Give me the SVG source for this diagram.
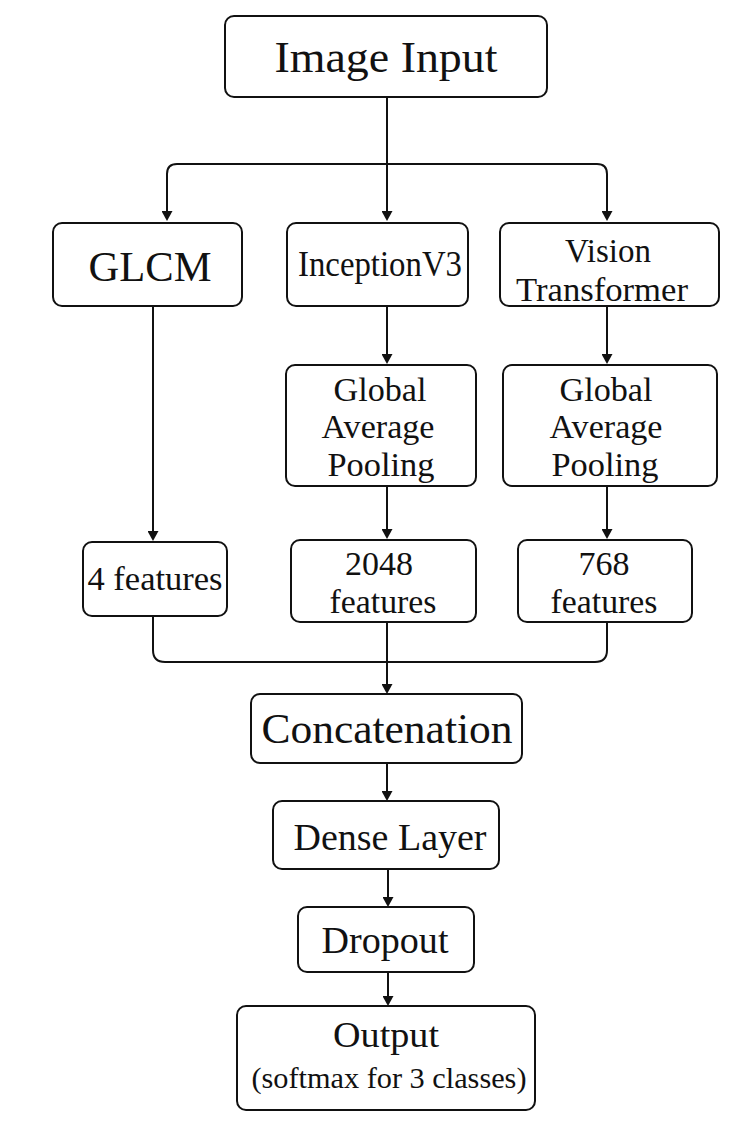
<svg xmlns="http://www.w3.org/2000/svg" width="749" height="1129" viewBox="0 0 749 1129">
<style>
.box{fill:#fff;stroke:#111;stroke-width:2}
.t{fill:#111;text-anchor:middle}
.c{fill:none;stroke:#111;stroke-width:2}
</style>
<defs>
<marker id="ah" markerUnits="userSpaceOnUse" markerWidth="10" markerHeight="11" refX="8" refY="5.5" orient="auto" viewBox="0 0 10 11">
<path d="M0,0 L10,5.5 L0,11 z" fill="#111"/>
</marker>
</defs>
<rect width="749" height="1129" fill="#fff"/>
<g id="connectors">
<path class="c" d="M387,97 V219" marker-end="url(#ah)"/>
<path class="c" d="M387,164 H177 Q167,164 167,174 V219" marker-end="url(#ah)"/>
<path class="c" d="M387,164 H597 Q607,164 607,174 V219" marker-end="url(#ah)"/>
<path class="c" d="M153,306 V539" marker-end="url(#ah)"/>
<path class="c" d="M387,306 V362" marker-end="url(#ah)"/>
<path class="c" d="M607,306 V362" marker-end="url(#ah)"/>
<path class="c" d="M387,486 V537" marker-end="url(#ah)"/>
<path class="c" d="M607,486 V537" marker-end="url(#ah)"/>
<path class="c" d="M153,616 V650 Q153,662 165,662 H595 Q607,662 607,650 V622"/>
<path class="c" d="M387,622 V692" marker-end="url(#ah)"/>
<path class="c" d="M387,763 V799" marker-end="url(#ah)"/>
<path class="c" d="M388,869 V905" marker-end="url(#ah)"/>
<path class="c" d="M388,972 V1004" marker-end="url(#ah)"/>
</g>
<g id="image-input">
<rect class="box" x="225" y="16" width="322" height="81" rx="9"/>
<text class="t" font-family="Liberation Serif" x="386" y="72" font-size="45" textLength="223" lengthAdjust="spacingAndGlyphs">Image Input</text>
</g>
<g id="glcm">
<rect class="box" x="53" y="223" width="189" height="83" rx="9"/>
<text class="t" font-family="Liberation Serif" x="150" y="281" font-size="43" textLength="123" lengthAdjust="spacingAndGlyphs">GLCM</text>
</g>
<g id="inception">
<rect class="box" x="287" y="223" width="181" height="83" rx="9"/>
<text class="t" font-family="Liberation Serif" x="380" y="276" font-size="35" textLength="164" lengthAdjust="spacingAndGlyphs">InceptionV3</text>
</g>
<g id="vit">
<rect class="box" x="500" y="223" width="219" height="83" rx="9"/>
<text class="t" font-family="Liberation Serif" x="608" y="262" font-size="33" textLength="86" lengthAdjust="spacingAndGlyphs">Vision</text>
<text class="t" font-family="Liberation Serif" x="602" y="301" font-size="33" textLength="172" lengthAdjust="spacingAndGlyphs">Transformer</text>
</g>
<g id="gap1">
<rect class="box" x="286" y="365" width="190" height="121" rx="9"/>
<text class="t" font-family="Liberation Serif" x="380" y="401" font-size="34" textLength="93" lengthAdjust="spacingAndGlyphs">Global</text>
<text class="t" font-family="Liberation Serif" x="378" y="438" font-size="34" textLength="113" lengthAdjust="spacingAndGlyphs">Average</text>
<text class="t" font-family="Liberation Serif" x="381" y="476" font-size="34" textLength="107" lengthAdjust="spacingAndGlyphs">Pooling</text>
</g>
<g id="gap2">
<rect class="box" x="503" y="365" width="214" height="121" rx="9"/>
<text class="t" font-family="Liberation Serif" x="606" y="401" font-size="34" textLength="93" lengthAdjust="spacingAndGlyphs">Global</text>
<text class="t" font-family="Liberation Serif" x="606" y="438" font-size="34" textLength="113" lengthAdjust="spacingAndGlyphs">Average</text>
<text class="t" font-family="Liberation Serif" x="605" y="476" font-size="34" textLength="107" lengthAdjust="spacingAndGlyphs">Pooling</text>
</g>
<g id="feat4">
<rect class="box" x="83" y="542" width="144" height="74" rx="9"/>
<text class="t" font-family="Liberation Serif" x="155" y="590" font-size="34" textLength="135" lengthAdjust="spacingAndGlyphs">4 features</text>
</g>
<g id="feat2048">
<rect class="box" x="291" y="540" width="185" height="82" rx="9"/>
<text class="t" font-family="Liberation Serif" x="379" y="575" font-size="34" textLength="68" lengthAdjust="spacingAndGlyphs">2048</text>
<text class="t" font-family="Liberation Serif" x="383" y="613" font-size="34" textLength="107" lengthAdjust="spacingAndGlyphs">features</text>
</g>
<g id="feat768">
<rect class="box" x="518" y="540" width="174" height="82" rx="9"/>
<text class="t" font-family="Liberation Serif" x="604" y="575" font-size="34" textLength="51" lengthAdjust="spacingAndGlyphs">768</text>
<text class="t" font-family="Liberation Serif" x="604" y="613" font-size="34" textLength="107" lengthAdjust="spacingAndGlyphs">features</text>
</g>
<g id="concat">
<rect class="box" x="251" y="694" width="271" height="69" rx="9"/>
<text class="t" font-family="Liberation Serif" x="387" y="743" font-size="43" textLength="251" lengthAdjust="spacingAndGlyphs">Concatenation</text>
</g>
<g id="dense">
<rect class="box" x="273" y="801" width="226" height="68" rx="9"/>
<text class="t" font-family="Liberation Serif" x="390" y="850" font-size="37" textLength="193" lengthAdjust="spacingAndGlyphs">Dense Layer</text>
</g>
<g id="dropout">
<rect class="box" x="298" y="907" width="176" height="65" rx="9"/>
<text class="t" font-family="Liberation Serif" x="385" y="953" font-size="37" textLength="127" lengthAdjust="spacingAndGlyphs">Dropout</text>
</g>
<g id="output">
<rect class="box" x="237" y="1006" width="298" height="104" rx="9"/>
<text class="t" font-family="Liberation Serif" x="386" y="1047" font-size="36" textLength="106" lengthAdjust="spacingAndGlyphs">Output</text>
<text class="t" font-family="Liberation Serif" x="389" y="1088" font-size="30" textLength="275" lengthAdjust="spacingAndGlyphs">(softmax for 3 classes)</text>
</g>
</svg>
